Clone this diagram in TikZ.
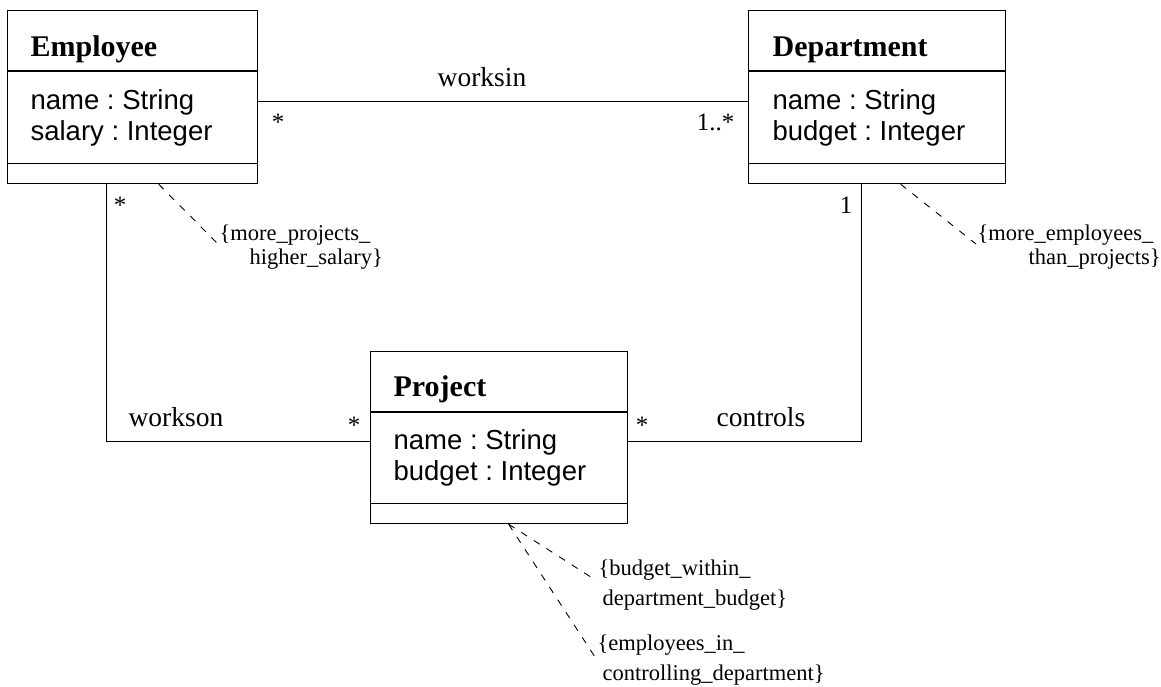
\documentclass[tikz,border=0pt]{standalone}
\usepackage{fontspec}
\setmainfont{Liberation Serif}
\newfontfamily\attrfont{Liberation Sans}
\usetikzlibrary{calc}
\frenchspacing

\begin{document}
\begin{tikzpicture}[x=1pt, y=-1pt, line width=1.2pt,
	classbox/.style={draw, inner sep=0pt, anchor=north west},
	classname/.style={anchor=base west, inner sep=0pt, font=\fontsize{30}{34}\selectfont\bfseries},
	attrs/.style={anchor=base west, inner sep=0pt, align=left, font=\fontsize{27.5}{31}\selectfont\attrfont},
	assoc/.style={inner sep=0pt, font=\fontsize{27.5}{31}\selectfont},
	mult/.style={anchor=base, inner sep=0pt, font=\fontsize{25}{28}\selectfont},
	constr/.style={anchor=north west, inner sep=0pt, align=left, font=\fontsize{22.5}{24}\selectfont},
	constrline/.style={line width=0.9pt, dash pattern=on 7pt off 8pt}]
	\useasboundingbox (0,0) rectangle (1161,686);

	% classes
	\node [classbox, minimum width=250pt, minimum height=173pt] (emp) at (7,10) {};
	\node [classbox, minimum width=257pt, minimum height=173pt] (dept) at (748,10) {};
	\node [classbox, minimum width=257pt, minimum height=172pt] (proj) at (370,351) {};
	\foreach \c/\w in {emp/250, dept/257, proj/257} {
		\draw ([yshift=-61pt]\c.north west) -- ++(\w,0);
		\draw ([yshift=21pt]\c.south west) -- ++(\w,0);
	}

	\node [classname] (emp-n) at (30,56) {Employee};
	\node [attrs] (emp-a) at (30,140) {name : String\\salary : Integer};
	\node [classname] (dept-n) at (772,56) {Department};
	\node [attrs] (dept-a) at (772,140) {name : String\\budget : Integer};
	\node [classname] (proj-n) at (393,396) {Project};
	\node [attrs] (proj-a) at (393,480) {name : String\\budget : Integer};

	% associations
	\draw ([yshift=-4.5pt]emp.east) -- ([yshift=-4.5pt]dept.west);
	\draw ([xshift=-26pt]emp.south) |- ([yshift=-4pt]proj.west);
	\draw ([xshift=-15.5pt]dept.south) |- ([yshift=-4pt]proj.east);

	\node [assoc, anchor=base] (worksin) at (482,86) {worksin};
	\node [assoc, anchor=base] (workson) at (176,426) {workson};
	\node [assoc, anchor=base] (controls) at (761,426) {controls};

	\node [mult] (m1) at (278,130) {*};
	\node [mult, anchor=base east] (m2) at (735,130) {1..*};
	\node [mult] (m3) at (120,213) {*};
	\node [mult] (m4) at (846,213) {1};
	\node [mult] (m5) at (354,433) {*};
	\node [mult] (m6) at (642,433) {*};

	% constraints
	\node [constr] (c1) at (219,224) {\{more\_projects\_\\\hspace*{30pt}higher\_salary\}};
	\node [constr] (c2) at (977,224) {\{more\_employees\_\\\hspace*{51pt}than\_projects\}};
	\node [constr] (c3) at (598,559) {\{budget\_within\_\\[6pt]\hspace*{4pt}department\_budget\}};
	\node [constr] (c4) at (597,634) {\{employees\_in\_\\[6pt]\hspace*{5pt}controlling\_department\}};
	\draw [constrline] ([xshift=26pt]emp.south) -- ([shift={(-1pt,-20pt)}]c1.north west);
	\draw [constrline] ([xshift=23.5pt]dept.south) -- ([shift={(-1pt,-20pt)}]c2.north west);
	\draw [constrline] ([xshift=9.5pt]proj.south) -- ([shift={(-1pt,-22pt)}]c3.north west);
	\draw [constrline] ([xshift=9.5pt]proj.south) -- ([shift={(-2pt,-23pt)}]c4.north west);
\end{tikzpicture}
\end{document}
